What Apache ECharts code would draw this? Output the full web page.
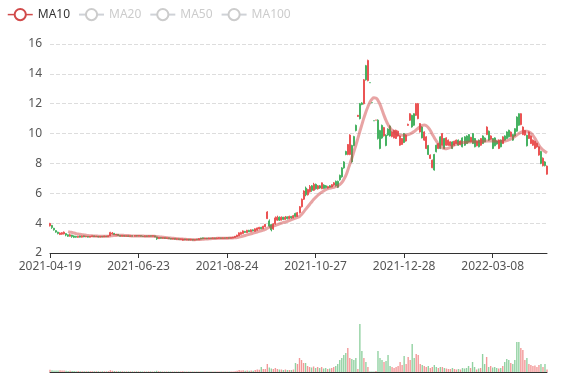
<!DOCTYPE html>
<html><head><meta charset="utf-8">
<script src="https://cdn.jsdelivr.net/npm/echarts@6/dist/echarts.min.js"></script>
<style>html,body{margin:0;padding:0;background:#fff}#main{width:577px;height:380px}</style>
</head><body><div id="main"></div>
<script>
// trading days per month (category axis)
const tradingMonths = [
  ['2021-04',[19,20,21,22,23,26,27,28,29,30]],
  ['2021-05',[6,7,10,11,12,13,14,17,18,19,20,21,24,25,26,27,28,31]],
  ['2021-06',[1,2,3,4,7,8,9,10,11,14,15,16,17,18,21,22,23,24,25,28,29,30]],
  ['2021-07',[1,2,5,6,7,8,9,12,13,14,15,16,19,20,21,22,23,26,27,28,29,30]],
  ['2021-08',[2,3,4,5,6,9,10,11,12,13,16,17,18,19,20,23,24,25,26,27,30,31]],
  ['2021-09',[1,2,3,6,7,8,9,10,13,14,15,16,17,22,23,24,27,28,29,30]],
  ['2021-10',[1,4,5,6,7,8,11,12,13,14,15,18,19,20,21,22,25,26,27,28,29]],
  ['2021-11',[1,2,3,4,5,8,9,10,11,12,15,16,17,18,19,22,23,24,25,26,29,30]],
  ['2021-12',[1,2,3,6,7,8,9,10,13,14,15,16,17,20,21,22,23,24,27,28,29,30,31]],
  ['2022-01',[4,5,6,7,10,11,12,13,14,17,18,19,20,21,24,25,26,27,28]],
  ['2022-02',[7,8,9,10,11,14,15,16,17,18,21,22,23,24,25,28]],
  ['2022-03',[1,2,3,4,7,8,9,10,11,14,15,16,17,18,21,22,23,24,25,28,29,30,31]],
  ['2022-04',[1,6,7,8,11,12,13,14,15,18]]
];
const dates = [];
tradingMonths.forEach(function (m) { m[1].forEach(function (d) { dates.push(m[0] + '-' + (d < 10 ? '0' + d : '' + d)); }); });

// [open, close, low, high]
const candles = [
[3.82,3.98,3.78,4.02],[3.85,3.70,3.62,3.88],[3.66,3.55,3.50,3.68],[3.50,3.40,3.36,3.52],[3.40,3.30,3.25,3.42],[3.24,3.34,3.20,3.38],[3.26,3.36,3.22,3.40],[3.28,3.40,3.24,3.44],[3.30,3.20,3.12,3.32],[3.22,3.12,3.08,3.25],
[3.12,3.22,3.10,3.30],[3.20,3.10,3.02,3.22],[3.14,3.05,3.00,3.18],[3.12,3.06,3.02,3.15],[3.05,3.12,3.02,3.15],[3.14,3.06,3.04,3.16],[3.06,3.14,3.04,3.16],[3.15,3.08,3.06,3.17],[3.08,3.13,3.06,3.15],[3.12,3.06,3.04,3.14],
[3.06,3.12,3.05,3.14],[3.10,3.15,3.08,3.17],[3.15,3.09,3.07,3.16],[3.09,3.13,3.07,3.15],[3.12,3.07,3.05,3.14],[3.07,3.12,3.05,3.14],[3.12,3.08,3.06,3.14],[3.08,3.14,3.07,3.16],[3.13,3.09,3.07,3.15],[3.09,3.15,3.08,3.17],
[3.15,3.38,3.13,3.42],[3.28,3.34,3.24,3.40],[3.32,3.22,3.20,3.34],[3.20,3.26,3.18,3.28],[3.25,3.17,3.15,3.27],[3.18,3.12,3.10,3.20],[3.12,3.18,3.10,3.20],[3.17,3.12,3.10,3.19],[3.12,3.16,3.10,3.18],[3.16,3.11,3.09,3.18],
[3.11,3.16,3.10,3.18],[3.16,3.12,3.10,3.18],[3.12,3.17,3.11,3.19],[3.17,3.13,3.11,3.19],[3.13,3.17,3.12,3.19],[3.17,3.12,3.10,3.18],[3.13,3.10,3.08,3.15],[3.10,3.15,3.09,3.17],[3.15,3.11,3.09,3.16],[3.11,3.16,3.10,3.18],
[3.16,3.12,3.10,3.17],[3.12,3.16,3.11,3.18],[3.15,3.08,3.06,3.16],[3.08,2.95,2.88,3.10],[2.96,3.04,2.94,3.06],[3.04,2.98,2.96,3.05],[2.98,3.03,2.96,3.05],[3.03,2.97,2.95,3.04],[2.97,3.02,2.95,3.04],[3.02,2.96,2.94,3.03],
[2.98,2.93,2.91,3.00],[2.93,2.98,2.92,3.00],[2.98,2.92,2.90,2.99],[2.92,2.96,2.90,2.98],[2.96,2.90,2.88,2.97],[2.90,2.95,2.88,2.97],[2.86,2.94,2.83,2.96],[2.94,2.88,2.86,2.95],[2.88,2.93,2.86,2.95],[2.93,2.87,2.85,2.94],
[2.87,2.92,2.85,2.94],[2.92,2.86,2.84,2.93],[2.86,2.91,2.84,2.93],[2.92,2.88,2.86,2.94],[2.88,2.96,2.87,2.98],[3.00,2.93,2.91,3.02],[3.02,2.95,2.93,3.03],[2.95,3.00,2.94,3.02],[3.00,2.95,2.93,3.01],[2.95,3.00,2.94,3.02],
[3.00,2.96,2.94,3.01],[2.96,3.01,2.95,3.03],[3.01,2.96,2.94,3.02],[2.96,3.01,2.95,3.03],[2.98,3.02,2.96,3.04],[3.02,2.97,2.95,3.03],[2.97,3.02,2.96,3.04],[3.02,2.98,2.96,3.03],[2.98,3.03,2.97,3.05],[3.03,2.98,2.96,3.04],
[2.98,3.04,2.97,3.06],[3.00,3.06,2.99,3.08],[3.04,3.12,3.03,3.14],[3.10,3.20,3.08,3.22],[3.15,3.35,3.14,3.38],[3.25,3.38,3.22,3.42],[3.30,3.48,3.28,3.52],[3.45,3.38,3.35,3.48],[3.36,3.52,3.34,3.55],[3.52,3.42,3.40,3.55],
[3.42,3.55,3.40,3.58],[3.55,3.48,3.45,3.58],[3.45,3.62,3.44,3.65],[3.52,3.68,3.50,3.70],[3.60,3.72,3.58,3.75],[3.72,3.62,3.60,3.75],[3.62,3.80,3.60,3.82],[3.75,3.92,3.72,3.95],[4.30,4.75,4.28,4.80],[4.15,3.80,3.70,4.25],
[3.90,3.55,3.45,3.95],[3.60,3.95,3.55,4.00],[3.95,4.35,3.90,4.45],[4.20,4.40,4.15,4.50],[4.40,4.20,4.15,4.45],[4.20,4.40,4.18,4.45],[4.40,4.25,4.20,4.42],[4.25,4.40,4.22,4.48],[4.42,4.30,4.25,4.45],[4.30,4.45,4.28,4.50],
[4.45,4.35,4.30,4.48],[4.35,4.50,4.33,4.55],[4.65,4.45,4.40,4.70],[4.45,4.70,4.42,4.75],[4.70,5.10,4.65,5.15],[5.10,5.60,5.05,5.65],[5.60,6.15,5.55,6.20],[6.35,5.90,5.80,6.45],[5.90,6.25,5.85,6.30],[6.10,6.45,6.05,6.55],
[6.50,6.20,6.10,6.55],[6.20,6.60,6.15,6.70],[6.60,6.30,6.25,6.65],[6.30,6.50,6.25,6.55],[6.50,6.35,6.30,6.55],[6.30,6.70,6.28,6.72],[6.55,6.33,6.30,6.60],[6.50,6.38,6.33,6.55],[6.35,6.45,6.32,6.50],[6.50,6.40,6.36,6.55],
[6.42,6.58,6.40,6.62],[6.55,6.70,6.50,6.75],[6.80,6.50,6.45,6.85],[6.80,6.40,6.35,6.85],[7.20,6.90,6.85,7.25],[7.70,7.10,7.05,7.75],[8.10,7.70,7.65,8.15],[8.80,8.60,8.55,8.85],[8.60,9.27,8.55,9.30],[8.60,9.90,8.55,9.95],
[9.20,8.10,8.05,9.25],[9.80,9.20,9.15,9.85],[10.55,10.20,10.15,10.60],[11.15,11.22,11.12,11.25],[12.00,11.00,10.95,12.05],[12.05,11.95,11.90,12.10],[12.00,13.60,11.95,13.65],[14.55,13.60,13.55,14.60],[13.55,14.90,13.50,14.95],[13.41,13.41,13.41,13.41],
[12.07,12.07,12.07,12.07],[10.86,10.86,10.86,10.86],[10.90,10.90,10.90,10.90],[10.90,9.67,9.60,10.95],[10.20,9.00,8.95,10.25],[10.55,9.70,9.65,10.60],[9.85,10.40,9.80,10.45],[9.90,9.20,9.15,9.95],[10.30,9.90,9.85,10.35],[10.50,9.84,9.80,10.55],
[9.80,10.10,9.75,10.15],[9.71,10.22,9.68,10.26],[9.67,10.22,9.64,10.26],[9.84,10.16,9.80,10.20],[9.22,9.84,9.18,9.88],[9.27,9.67,9.24,9.70],[10.00,9.40,9.36,10.04],[9.50,9.90,9.46,9.95],[10.55,10.62,10.52,10.66],[10.89,11.33,10.85,11.36],
[11.22,10.44,10.40,11.26],[11.33,10.56,10.52,11.36],[11.22,12.00,11.18,12.05],[11.00,12.00,10.96,12.05],[10.11,10.67,10.07,10.70],[10.44,9.71,9.68,10.48],[9.56,10.11,9.52,10.15],[9.00,9.78,8.96,9.82],[9.20,8.60,8.56,9.24],[8.33,8.56,8.30,8.60],
[7.71,8.22,7.68,8.26],[8.60,7.56,7.52,8.64],[9.22,8.78,8.74,9.26],[9.00,9.33,8.96,9.36],[9.78,9.00,8.96,9.82],[9.22,10.00,9.18,10.04],[9.67,9.00,8.96,9.70],[9.22,9.71,9.18,9.75],[9.22,9.56,9.18,9.60],[9.20,9.45,9.16,9.48],
[9.44,9.00,8.96,9.48],[9.22,9.49,9.18,9.52],[9.33,9.56,9.30,9.60],[9.56,9.22,9.18,9.60],[9.25,9.50,9.22,9.54],[9.71,9.11,9.08,9.75],[9.78,9.22,9.18,9.82],[9.84,9.33,9.30,9.88],[9.93,9.44,9.40,9.97],[9.45,9.75,9.42,9.78],
[10.00,9.33,9.30,10.04],[9.67,9.11,9.08,9.70],[9.18,9.49,9.15,9.52],[9.56,9.11,9.08,9.60],[9.22,9.67,9.18,9.70],[9.84,9.33,9.30,9.88],[9.70,9.45,9.42,9.74],[9.93,10.44,9.90,10.48],[10.16,9.56,9.52,10.20],[9.62,9.84,9.58,9.88],
[9.67,9.00,8.96,9.70],[9.71,9.18,9.15,9.75],[9.50,9.30,9.26,9.54],[9.00,9.56,8.96,9.60],[9.56,9.11,9.08,9.60],[9.33,9.78,9.30,9.82],[9.84,9.56,9.52,9.88],[10.11,9.67,9.64,10.15],[10.22,9.78,9.74,10.26],[9.80,10.10,9.76,10.14],
[9.93,9.56,9.52,9.96],[10.33,9.84,9.80,10.36],[11.11,10.16,10.12,11.15],[11.33,10.56,10.52,11.36],[10.60,11.33,10.56,11.36],[9.93,10.44,9.90,10.48],[9.90,10.20,9.86,10.24],[9.89,9.18,9.14,9.92],[9.67,10.11,9.64,10.14],[9.33,9.84,9.30,9.88],
[9.22,9.56,9.18,9.60],[9.00,9.49,8.96,9.52],[9.10,9.35,9.06,9.38],[8.56,9.11,8.52,9.14],[8.80,8.00,7.95,8.85],[7.85,8.35,7.80,8.40],[8.10,7.85,7.80,8.15],[7.28,7.82,7.25,7.86]
];

const volumes = [
2.2,1.8,1.6,1.5,1.6,1.8,1.6,1.4,1.2,1.0,
1.2,1.0,0.9,0.8,0.9,0.8,0.8,0.7,0.8,0.8,
0.7,0.8,0.7,0.7,0.7,0.6,0.7,0.7,0.6,0.8,
1.8,1.2,1.0,0.8,0.8,0.7,0.7,0.6,0.6,0.6,
0.6,0.6,0.6,0.7,0.6,0.6,0.5,0.6,0.5,0.6,
0.6,0.5,0.6,1.2,0.8,0.6,0.5,0.5,0.5,0.5,
0.5,0.5,0.5,0.5,0.5,0.5,0.8,0.5,0.5,0.4,
0.5,0.4,0.4,0.5,0.6,0.6,0.5,0.5,0.4,0.4,
0.4,0.5,0.4,0.4,0.5,0.4,0.4,0.4,0.5,0.4,
0.5,0.6,0.8,1.2,2.0,1.5,1.8,1.2,1.6,1.2,
1.5,1.2,2.0,2.5,2.2,5.0,3.0,3.0,8.0,4.5,
3.5,3.0,4.0,3.0,2.5,2.5,2.0,2.5,2.0,2.0,
2.0,2.5,9.0,8.0,14.0,12.0,9.0,9.0,6.0,5.0,
4.5,5.5,4.0,5.0,4.0,5.0,3.5,4.0,3.0,3.5,
4.0,5.0,6.0,8.0,12.0,14.0,17.0,19.0,24.0,14.0,
13.0,12.0,14.0,3.0,48.0,21.0,14.0,10.0,5.0,0.6,
0.5,0.6,1.0,21.0,14.0,12.0,10.0,11.0,17.0,6.0,
5.0,4.0,5.0,6.0,10.0,7.0,16.0,8.0,15.0,12.0,
28.0,14.0,18.0,17.0,8.0,7.0,6.0,5.0,6.0,4.0,
5.0,7.0,5.0,4.0,5.0,5.0,4.0,3.5,3.0,3.0,
4.0,3.0,2.5,3.0,2.5,4.0,3.5,4.0,6.0,4.0,
10.0,5.0,2.5,3.5,4.0,18.0,8.0,15.0,5.0,6.0,
4.5,5.0,4.0,3.5,4.0,6.0,10.0,13.0,12.0,9.0,
8.0,12.0,30.0,30.0,24.0,22.0,12.0,14.0,8.0,7.0,
6.0,6.5,5.0,7.0,8.0,5.0,8.0,2.5
];

const ma10 = [
'-','-','-','-','-','-','-','-','-',3.43,
3.40,3.37,3.34,3.30,3.27,3.25,3.23,3.21,3.19,3.17,
3.16,3.15,3.14,3.14,3.13,3.13,3.12,3.12,3.12,3.12,
3.14,3.16,3.17,3.18,3.19,3.19,3.19,3.18,3.18,3.17,
3.15,3.14,3.14,3.14,3.14,3.14,3.14,3.13,3.13,3.13,
3.13,3.13,3.12,3.10,3.09,3.07,3.06,3.04,3.03,3.01,
3.00,2.99,2.98,2.96,2.95,2.94,2.93,2.92,2.91,2.90,
2.90,2.89,2.89,2.90,2.90,2.91,2.92,2.93,2.94,2.95,
2.96,2.97,2.97,2.98,2.98,2.98,2.99,2.99,2.99,3.00,
3.00,3.01,3.02,3.04,3.07,3.10,3.14,3.17,3.21,3.25,
3.29,3.33,3.37,3.41,3.45,3.49,3.53,3.58,3.66,3.72,
3.76,3.80,3.85,3.90,3.95,4.00,4.05,4.08,4.12,4.18,
4.23,4.28,4.33,4.38,4.45,4.58,4.74,4.92,5.08,5.25,
5.42,5.58,5.72,5.85,5.97,6.07,6.16,6.24,6.30,6.34,
6.37,6.40,6.44,6.50,6.58,6.72,6.92,7.18,7.55,7.95,
8.35,8.78,9.22,9.68,10.15,10.60,11.05,11.45,11.80,12.10,
12.30,12.40,12.38,12.22,11.95,11.60,11.22,10.88,10.60,10.38,
10.22,10.10,10.00,9.93,9.90,9.88,9.88,9.90,9.93,9.98,
10.05,10.14,10.25,10.36,10.46,10.54,10.57,10.52,10.40,10.20,
9.96,9.72,9.50,9.30,9.15,9.05,9.00,8.99,9.02,9.08,
9.16,9.24,9.30,9.35,9.38,9.40,9.41,9.42,9.43,9.44,
9.45,9.45,9.46,9.46,9.46,9.47,9.48,9.50,9.51,9.51,
9.50,9.50,9.49,9.49,9.48,9.48,9.50,9.53,9.58,9.64,
9.72,9.80,9.90,10.00,10.08,10.13,10.16,10.16,10.12,10.03,
9.88,9.68,9.45,9.22,9.03,8.90,8.80,8.70
];

const legendNames = ['MA10', 'MA20', 'MA50', 'MA100'];
const upColor = '#eb5454';
const downColor = '#47b262';

function isUp(i) {
  const c = candles[i];
  if (c[1] !== c[0]) return c[1] > c[0];
  return i > 0 ? c[1] >= candles[i - 1][1] : true;
}

const volumeData = volumes.map(function (v, i) {
  return { value: v, itemStyle: { color: isUp(i) ? upColor : downColor, opacity: 0.6 } };
});

const chart = echarts.init(document.getElementById('main'), null, { renderer: 'canvas' });
const option = {
  animation: false,
  textStyle: { fontFamily: 'Noto Sans' },
  legend: {
    data: legendNames,
    left: 2, top: 3,
    selected: { MA20: false, MA50: false, MA100: false },
    textStyle: { color: '#333', fontSize: 12 },
    inactiveColor: '#ccc',
    lineStyle: { width: 1.5, opacity: 1 },
    itemStyle: { borderWidth: 1.5, opacity: 1 }
  },
  grid: [
    { left: 50, right: 30, top: 44, height: 209 },
    { left: 50, right: 30, top: 300, height: 72 }
  ],
  xAxis: [
    { type: 'category', data: dates, boundaryGap: false,
      axisLine: { lineStyle: { color: '#333' } },
      axisTick: { interval: 43, lineStyle: { color: '#333' } },
      axisLabel: { interval: 43, color: '#555', fontSize: 12 },
      splitLine: { show: false } },
    { type: 'category', gridIndex: 1, data: dates, boundaryGap: false,
      axisLine: { lineStyle: { color: '#333' } },
      axisTick: { show: false }, axisLabel: { show: false }, splitLine: { show: false } }
  ],
  yAxis: [
    { type: 'value', min: 2, max: 16, interval: 2,
      axisLine: { show: false }, axisTick: { show: false },
      axisLabel: { color: '#555', fontSize: 12 },
      splitLine: { lineStyle: { type: 'dashed', color: '#ddd' } } },
    { type: 'value', gridIndex: 1, min: 0, max: 72, show: false, splitLine: { show: false } }
  ],
  series: [
    { name: 'K', type: 'candlestick', data: candles, barWidth: 1.5,
      itemStyle: { color: upColor, color0: downColor, borderColor: upColor, borderColor0: downColor } },
    { name: 'MA10', type: 'line', data: ma10, smooth: true, showSymbol: false, color: '#d14a4a',
      lineStyle: { width: 3, opacity: 0.5 } },
    { name: 'MA20', type: 'line', data: [], smooth: true, showSymbol: false, color: '#5470c6' },
    { name: 'MA50', type: 'line', data: [], smooth: true, showSymbol: false, color: '#91cc75' },
    { name: 'MA100', type: 'line', data: [], smooth: true, showSymbol: false, color: '#fac858' },
    { name: 'Volume', type: 'bar', xAxisIndex: 1, yAxisIndex: 1, data: volumeData }
  ]
};
chart.setOption(option);
</script>
</body></html>
